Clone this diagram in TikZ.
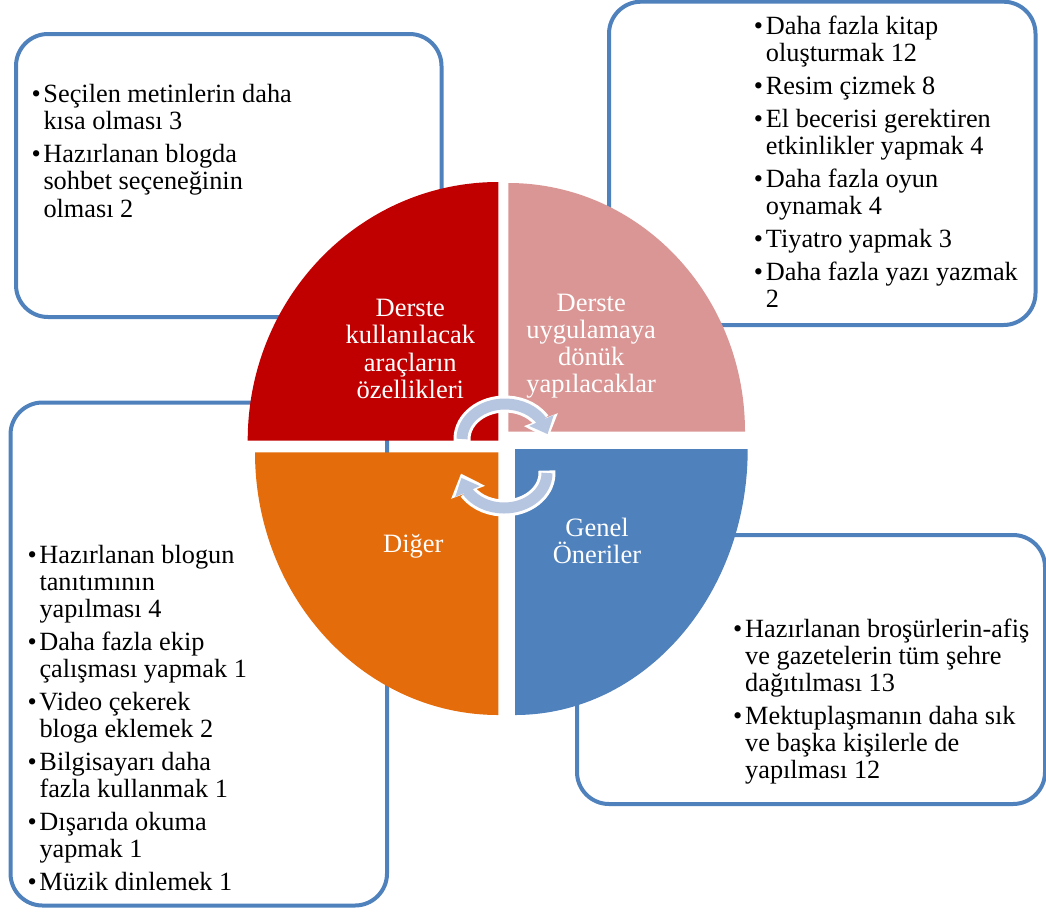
\documentclass[tikz,border=0pt]{standalone}
\usepackage{fontspec}
\setmainfont{Liberation Serif}
\usetikzlibrary{arrows.meta,bending}
\definecolor{qred}{HTML}{C00000}
\definecolor{qpink}{HTML}{D99694}
\definecolor{qorange}{HTML}{E46C0A}
\definecolor{qblue}{HTML}{4F81BD}
\definecolor{boxblue}{HTML}{4F81BD}
\definecolor{arrowblue}{HTML}{B7C6E0}
\newcommand{\boxfont}{\fontsize{26.3}{27.2}\selectfont}
\newcommand{\lblfont}{\fontsize{26.5}{27.2}\selectfont}
\newcommand{\bul}[1]{\par\noindent\hangindent=12pt\hangafter=1\makebox[12pt][l]{•}#1\par}
\newenvironment{bulletblock}{\begin{minipage}[t]{330pt}\boxfont\setlength{\parskip}{5.6pt}}{\end{minipage}}
\newenvironment{lblblock}{\begin{minipage}[t]{220pt}\centering\lblfont}{\end{minipage}}
\begin{document}
\begin{tikzpicture}[x=1pt,y=-1pt,
  infobox/.style={draw=boxblue, line width=4pt, rounded corners=32pt, fill=white},
  txt/.style={anchor=base west, inner sep=0pt},
  lbl/.style={anchor=base, inner sep=0pt, text=white},
  arrwhite/.style={draw=white, line width=17pt, -{Triangle[width=35pt,length=20pt]}},
  arrblue/.style={draw=arrowblue, line width=11pt, -{Triangle[width=26pt,length=15pt]}}]
\useasboundingbox (0,0) rectangle (1046,916);

% background boxes
\draw[infobox] (16,34) rectangle (441.5,317);
\draw[infobox] (609,1.7) rectangle (1035.5,325);
\draw[infobox] (10.5,402.5) rectangle (387,905.5);
\draw[infobox] (577,535) rectangle (1045,804);

% quadrants
\fill[qred] (498.3,440.7) -- (247.7,440.7) arc[start angle=180,end angle=270,x radius=250.6,y radius=258.7] -- cycle;
\fill[qpink] (508.3,431.7) -- (508.3,183) arc[start angle=270,end angle=360,x radius=236.7,y radius=248.7] -- cycle;
\fill[qorange] (498.3,452.3) -- (498.3,715) arc[start angle=90,end angle=180,x radius=243.3,y radius=262.7] -- cycle;
\fill[qblue] (515,449.2) -- (747.7,449.2) arc[start angle=0,end angle=90,x radius=232.7,y radius=265.8] -- cycle;

% circular arrows
\coordinate (ctop) at (505,439);
\coordinate (cbot) at (504,473);
\draw[arrwhite] (ctop) ++(176:43 and 35) arc[start angle=176,end angle=359,x radius=43,y radius=35];
\draw[arrblue] (ctop) ++(180:43 and 35) arc[start angle=180,end angle=352,x radius=43,y radius=35];
\draw[arrwhite] (cbot) ++(-4:43 and 35) arc[start angle=-4,end angle=179,x radius=43,y radius=35];
\draw[arrblue] (cbot) ++(0:43 and 35) arc[start angle=0,end angle=172,x radius=43,y radius=35];

% quadrant labels
\node[lbl] (lred) at (410.3,316.7) {\begin{lblblock}Derste\\kullanılacak\\araçların\\özellikleri\end{lblblock}};
\node[lbl] (lpink) at (591.2,311) {\begin{lblblock}Derste\\uygulamaya\\dönük\\yapılacaklar\end{lblblock}};
\node[lbl] (lorange) at (413.3,552.7) {\begin{lblblock}Diğer\end{lblblock}};
\node[lbl] (lblue) at (597,536.7) {\begin{lblblock}Genel\\Öneriler\end{lblblock}};

% box texts
\node[txt] (ttl) at (31.3,102.7) {\begin{bulletblock}
\bul{Seçilen metinlerin daha\\kısa olması 3}
\bul{Hazırlanan blogda\\sohbet seçeneğinin\\olması 2}
\end{bulletblock}};
\node[txt] (ttr) at (753.7,34.5) {\begin{bulletblock}
\bul{Daha fazla kitap\\oluşturmak 12}
\bul{Resim çizmek 8}
\bul{El becerisi gerektiren\\etkinlikler yapmak 4}
\bul{Daha fazla oyun\\oynamak 4}
\bul{Tiyatro yapmak 3}
\bul{Daha fazla yazı yazmak\\2}
\end{bulletblock}};
\node[txt] (tbl) at (27.3,563) {\begin{bulletblock}
\bul{Hazırlanan blogun\\tanıtımının\\yapılması 4}
\bul{Daha fazla ekip\\çalışması yapmak 1}
\bul{Video çekerek\\bloga eklemek 2}
\bul{Bilgisayarı daha\\fazla kullanmak 1}
\bul{Dışarıda okuma\\yapmak 1}
\bul{Müzik dinlemek 1}
\end{bulletblock}};
\node[txt] (tbr) at (733,637) {\begin{bulletblock}
\bul{Hazırlanan broşürlerin-afiş\\ve gazetelerin tüm şehre\\dağıtılması 13}
\bul{Mektuplaşmanın daha sık\\ve başka kişilerle de\\yapılması 12}
\end{bulletblock}};
\end{tikzpicture}
\end{document}
